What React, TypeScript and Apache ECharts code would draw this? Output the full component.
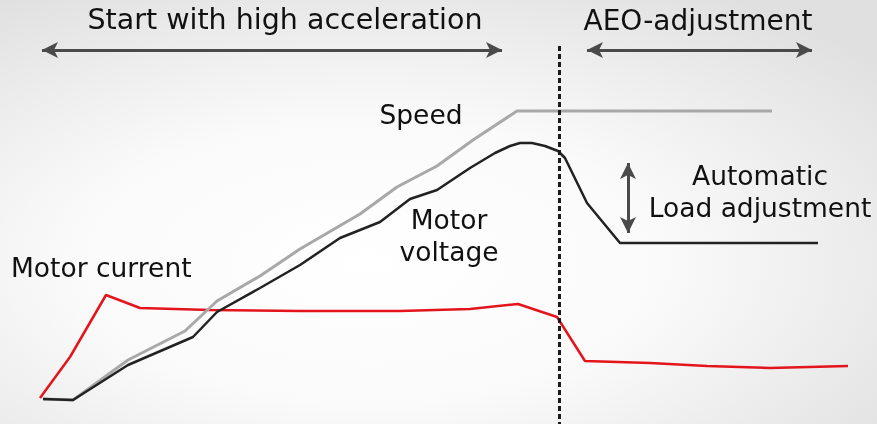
import React, { useEffect, useRef } from "react";
import * as echarts from "echarts";

// Values (x: time units, y: level units, y grows downward on the axis)
const speed: number[][] = [
  [43, 399], [73, 400], [128, 360], [185, 331], [217, 301], [260, 276], [300, 249],
  [360, 214], [397, 187], [437, 166], [473, 140], [517, 111], [772, 111],
];
const voltage: number[][] = [
  [43, 399], [73, 400], [128, 365], [193, 337], [217, 312], [260, 288], [300, 265],
  [340, 238], [380, 222], [410, 199], [437, 190], [470, 168], [495, 153], [510, 146],
  [520, 143], [532, 143], [545, 146], [558, 151], [565, 158], [587, 203], [620, 243], [818, 243],
];
const current: number[][] = [
  [40, 398], [70, 357], [106, 295], [140, 308], [210, 310], [300, 311], [400, 311],
  [470, 309], [518, 304], [557, 317], [585, 361], [650, 363], [707, 366], [770, 368], [848, 366],
];
const switchX = 559;
const accelRange = [42, 502];
const aeoRange = [587, 812];
const arrowLevel = 50;
const loadArrow = [163, 233];
const loadArrowX = 628;

export default function App() {
  const ref = useRef<HTMLDivElement>(null);
  useEffect(() => {
    if (!ref.current) return;
    const chart = echarts.init(ref.current, undefined, { renderer: "svg" });
    const font = "DejaVu Sans, Verdana, sans-serif";
    const txt = (text: string, x: number, y: number, size = 26.5, align = "center") => ({
      type: "text",
      x,
      y,
      style: { text, fill: "#111", font: `${size}px ${font}`, textAlign: align, textVerticalAlign: "bottom" },
      z: 10,
    });
    const arrowLine = { color: "#4a4a4a", width: 3, type: "solid" };
    chart.setOption({
      animation: false,
      backgroundColor: new echarts.graphic.RadialGradient(0.42, 0.62, 0.75, [
        { offset: 0, color: "#ffffff" },
        { offset: 0.45, color: "#fafafa" },
        { offset: 1, color: "#e0e0e0" },
      ]),
      grid: { left: 0, right: 0, top: 0, bottom: 0 },
      xAxis: { type: "value", min: 0, max: 877, show: false },
      yAxis: { type: "value", min: 0, max: 424, inverse: true, show: false },
      series: [
        {
          type: "line",
          name: "Motor current",
          data: current,
          symbol: "none",
          lineStyle: { color: "#e3141c", width: 2.5 },
          z: 2,
          markLine: {
            silent: true,
            symbol: ["arrow", "arrow"],
            symbolSize: [12, 16],
            label: { show: false },
            lineStyle: arrowLine,
            itemStyle: { color: "#1a1a1a" },
            data: [
              [{ coord: [accelRange[0], arrowLevel] }, { coord: [accelRange[1], arrowLevel] }],
              [{ coord: [aeoRange[0], arrowLevel] }, { coord: [aeoRange[1], arrowLevel] }],
              [{ coord: [loadArrowX, loadArrow[0]] }, { coord: [loadArrowX, loadArrow[1]] }],
            ],
          },
        },
        {
          type: "line",
          name: "Speed",
          data: speed,
          symbol: "none",
          lineStyle: { color: "#a8a8a8", width: 3 },
          z: 3,
        },
        {
          type: "line",
          name: "Motor voltage",
          data: voltage,
          symbol: "none",
          lineStyle: { color: "#222222", width: 2.5 },
          z: 4,
          markLine: {
            silent: true,
            symbol: ["none", "none"],
            label: { show: false },
            lineStyle: { color: "#1a1a1a", width: 3, type: [5, 3] },
            data: [[{ coord: [switchX, 46] }, { coord: [switchX, 424] }]],
          },
        },
      ],
      graphic: [
        txt("Start with high acceleration", 285, 34, 28.5),
        txt("AEO-adjustment", 698, 34, 28),
        txt("Speed", 421, 128),
        txt("Motor", 449, 233),
        txt("voltage", 449, 265),
        txt("Automatic", 760, 189),
        txt("Load adjustment", 760, 221),
        txt("Motor current", 11, 281, 26.5, "left"),
      ],
    });
    return () => chart.dispose();
  }, []);
  return (
    <div
      ref={ref}
      style={{ position: "fixed", left: 0, top: 0, width: 877, height: 424 }}
    />
  );
}
